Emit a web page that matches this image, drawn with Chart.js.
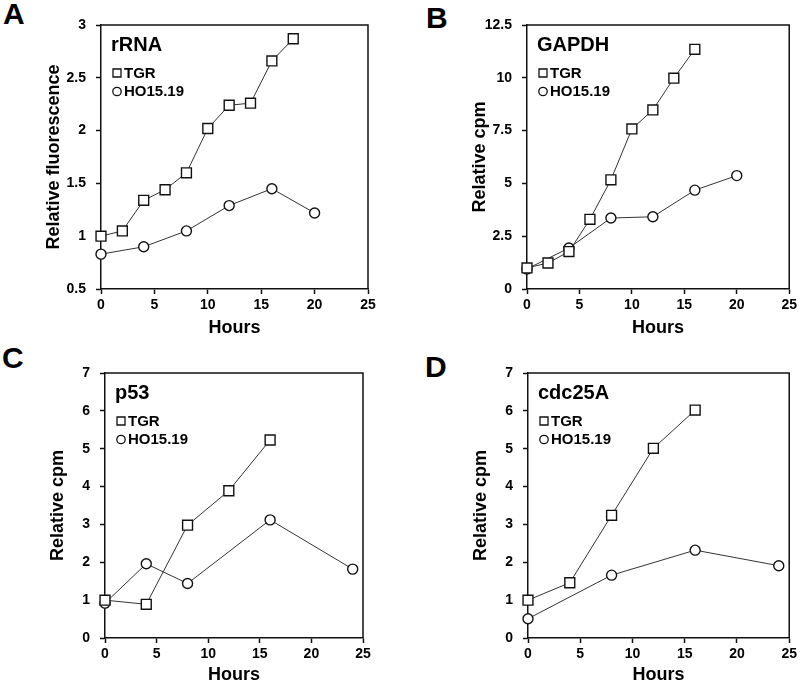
<!DOCTYPE html>
<html>
<head>
<meta charset="utf-8">
<script src="https://cdn.jsdelivr.net/npm/chart.js@4/dist/chart.umd.min.js"></script>
<style>
  body { margin: 0; background: #fff; }
  #fig { position: relative; width: 800px; height: 685px; background: #fff; }
  canvas { position: absolute; }
  .tag { position: absolute; font: bold 30px "Liberation Sans", Arial, sans-serif; line-height: 30px; color: #000; }
</style>
</head>
<body>
<div id="fig">
  <div class="tag" style="left:3px;top:-1px">A</div>
  <div class="tag" style="left:426px;top:3px">B</div>
  <div class="tag" style="left:2px;top:343px">C</div>
  <div class="tag" style="left:425px;top:352px">D</div>
  <canvas id="chartA" width="400" height="340" style="left:0;top:0"></canvas>
  <canvas id="chartB" width="400" height="340" style="left:400px;top:0"></canvas>
  <canvas id="chartC" width="400" height="345" style="left:0;top:340px"></canvas>
  <canvas id="chartD" width="400" height="345" style="left:400px;top:340px"></canvas>
</div>
<script>
// values
const xTicks = [0, 5, 10, 15, 20, 25];

const rrnaHoursTgr = [0, 2, 4, 6, 8, 10, 12, 14, 16, 18];
const rrnaTgr = [1.0, 1.05, 1.34, 1.44, 1.6, 2.02, 2.24, 2.26, 2.66, 2.87];
const rrnaHoursHo = [0, 4, 8, 12, 16, 20];
const rrnaHo = [0.83, 0.9, 1.05, 1.29, 1.45, 1.22];
const rrnaTicks = [0.5, 1, 1.5, 2, 2.5, 3];

const gapdhHoursTgr = [0, 2, 4, 6, 8, 10, 12, 14, 16];
const gapdhTgr = [1.0, 1.23, 1.77, 3.3, 5.17, 7.58, 8.48, 9.98, 11.35];
const gapdhHoursHo = [0, 4, 8, 12, 16, 20];
const gapdhHo = [0.95, 1.94, 3.36, 3.42, 4.68, 5.37];
const gapdhTicks = [0, 2.5, 5, 7.5, 10, 12.5];

const p53HoursTgr = [0, 4, 8, 12, 16];
const p53Tgr = [1.0, 0.89, 2.98, 3.89, 5.23];
const p53HoursHo = [0, 4, 8, 16, 24];
const p53Ho = [0.92, 1.96, 1.44, 3.12, 1.82];
const cpmTicks = [0, 1, 2, 3, 4, 5, 6, 7];

const cdcHoursTgr = [0, 4, 8, 12, 16];
const cdcTgr = [1.0, 1.46, 3.24, 5.01, 6.02];
const cdcHoursHo = [0, 8, 16, 24];
const cdcHo = [0.51, 1.66, 2.32, 1.91];

const FONT = '"Liberation Sans", Arial, sans-serif';
const INK = '#111';

// top and right edges of the box
const framePlugin = {
    id: 'frame',
    beforeDatasetsDraw(chart) {
        const { ctx, chartArea: a } = chart;
        ctx.save();
        ctx.strokeStyle = INK;
        ctx.lineWidth = 1.5;
        ctx.beginPath();
        ctx.moveTo(a.left, a.top);
        ctx.lineTo(a.right, a.top);
        ctx.lineTo(a.right, a.bottom);
        ctx.stroke();
        ctx.restore();
    }
};

// gene name + key drawn inside the plot, top left
const insetPlugin = {
    id: 'inset',
    afterDatasetsDraw(chart, args, opts) {
        const { ctx, chartArea: a } = chart;
        ctx.save();
        ctx.fillStyle = '#000';
        ctx.font = 'bold 20px ' + FONT;
        ctx.textBaseline = 'alphabetic';
        ctx.fillText(opts.title, a.left + 10, a.top + 26);
        ctx.font = 'bold 15px ' + FONT;
        ctx.textBaseline = 'middle';
        chart.data.datasets.forEach((ds, i) => {
            const y = a.top + 48 + i * 18.5;
            const x = a.left + 16;
            ctx.strokeStyle = INK;
            ctx.lineWidth = 1.3;
            ctx.fillStyle = '#fff';
            ctx.beginPath();
            if (ds.pointStyle === 'rect') {
                ctx.rect(x - 4, y - 4, 8, 8);
            } else {
                ctx.arc(x, y, 4.2, 0, Math.PI * 2);
            }
            ctx.fill();
            ctx.stroke();
            ctx.fillStyle = '#000';
            ctx.fillText(ds.label, a.left + 23, y + 0.5);
        });
        ctx.restore();
    }
};

const toPoints = (hours, vals) => hours.map((h, i) => ({ x: h, y: vals[i] }));

const makePanel = (id, p) => {
    const ctx = document.getElementById(id).getContext('2d');
    return new Chart(ctx, {
        type: 'line',
        data: {
            datasets: [
                {
                    label: 'TGR',
                    data: toPoints(p.tgrHours, p.tgr),
                    pointStyle: 'rect',
                    pointRadius: 7,
                    borderColor: '#333',
                    borderWidth: 1,
                    pointBorderColor: INK,
                    pointBorderWidth: 1.4,
                    pointBackgroundColor: '#fff',
                    tension: 0,
                    clip: false
                },
                {
                    label: 'HO15.19',
                    data: toPoints(p.hoHours, p.ho),
                    pointStyle: 'circle',
                    pointRadius: 5,
                    borderColor: '#333',
                    borderWidth: 1,
                    pointBorderColor: INK,
                    pointBorderWidth: 1.4,
                    pointBackgroundColor: '#fff',
                    tension: 0,
                    clip: false
                }
            ]
        },
        options: {
            responsive: false,
            animation: false,
            events: [],
            layout: { padding: { top: p.top, right: p.right, left: 0, bottom: 0 } },
            plugins: {
                legend: { display: false },
                tooltip: { enabled: false },
                inset: { title: p.title }
            },
            scales: {
                x: {
                    type: 'linear',
                    min: xTicks[0],
                    max: xTicks[xTicks.length - 1],
                    afterBuildTicks: s => { s.ticks = xTicks.map(v => ({ value: v })); },
                    afterFit: s => { s.height = p.xHeight; },
                    grid: { drawOnChartArea: false, drawTicks: true, tickLength: 5, tickColor: INK, tickWidth: 1.5 },
                    border: { display: true, color: INK, width: 1.5 },
                    ticks: { color: '#000', padding: 3, maxRotation: 0, font: { family: FONT, size: 14, weight: 'bold' }, callback: v => String(v) },
                    title: { display: true, text: 'Hours', color: '#000', padding: { top: 0, bottom: p.xTitlePad }, font: { family: FONT, size: 18, weight: 'bold', lineHeight: 1 } }
                },
                y: {
                    type: 'linear',
                    min: p.yTicks[0],
                    max: p.yTicks[p.yTicks.length - 1],
                    afterBuildTicks: s => { s.ticks = p.yTicks.map(v => ({ value: v })); },
                    afterFit: s => { s.width = p.left; },
                    grid: { drawOnChartArea: false, drawTicks: true, tickLength: 5, tickColor: INK, tickWidth: 1.5 },
                    border: { display: true, color: INK, width: 1.5 },
                    ticks: { color: '#000', padding: 10, font: { family: FONT, size: 14, weight: 'bold' }, callback: v => String(v) },
                    title: { display: true, text: p.yTitle, color: '#000', padding: { top: p.left - 56, bottom: 0 }, font: { family: FONT, size: 18, weight: 'bold', lineHeight: 1 } }
                }
            }
        },
        plugins: [framePlugin, insetPlugin]
    });
};

makePanel('chartA', {
    title: 'rRNA', yTitle: 'Relative fluorescence', yTicks: rrnaTicks,
    tgrHours: rrnaHoursTgr, tgr: rrnaTgr, hoHours: rrnaHoursHo, ho: rrnaHo,
    left: 101, right: 32, top: 25, xHeight: 51, xTitlePad: 3
});
makePanel('chartB', {
    title: 'GAPDH', yTitle: 'Relative cpm', yTicks: gapdhTicks,
    tgrHours: gapdhHoursTgr, tgr: gapdhTgr, hoHours: gapdhHoursHo, ho: gapdhHo,
    left: 127, right: 8, top: 25, xHeight: 51, xTitlePad: 3
});
makePanel('chartC', {
    title: 'p53', yTitle: 'Relative cpm', yTicks: cpmTicks,
    tgrHours: p53HoursTgr, tgr: p53Tgr, hoHours: p53HoursHo, ho: p53Ho,
    left: 105, right: 37, top: 33, xHeight: 47, xTitlePad: 1
});
makePanel('chartD', {
    title: 'cdc25A', yTitle: 'Relative cpm', yTicks: cpmTicks,
    tgrHours: cdcHoursTgr, tgr: cdcTgr, hoHours: cdcHoursHo, ho: cdcHo,
    left: 128, right: 7, top: 33, xHeight: 47, xTitlePad: 1
});
</script>
</body>
</html>
